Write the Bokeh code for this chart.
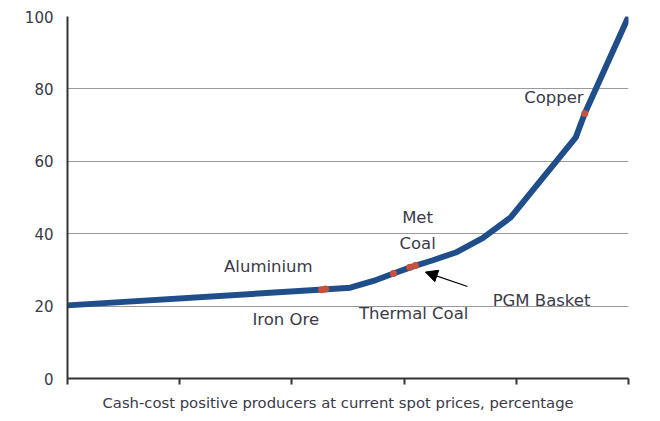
from bokeh.plotting import figure
from bokeh.models import ColumnDataSource, Arrow, NormalHead, FixedTicker, Range1d, CustomJSTickFormatter, Title
from bokeh.core.properties import value
from bokeh.embed import file_html
from bokeh.resources import INLINE

# Cost curve (x: cash-cost positive producers %, y: percentile)
curve_x = [0, 45.6, 50.4, 55.0, 58.1, 61.5, 65.0, 69.2, 74.0, 79.0, 90.6, 92.2, 100]
curve_y = [20.2, 24.6, 25.1, 27.2, 29.0, 30.9, 32.6, 34.8, 38.8, 44.5, 66.6, 73.2, 100]

# Commodity markers on the curve
marker_names = ["Aluminium", "Iron Ore", "Thermal Coal", "Met Coal", "PGM Basket", "Copper"]
marker_x = [45.3, 46.0, 58.1, 61.0, 62.0, 92.2]
marker_y = [24.5, 24.7, 29.0, 30.7, 31.2, 73.2]

# Annotation labels
label_text = ["Aluminium", "Iron Ore", "Met", "Coal", "Thermal Coal", "PGM Basket", "Copper"]
label_x = [35.8, 38.9, 62.4, 62.4, 61.7, 84.5, 86.7]
label_y = [30.9, 16.3, 44.5, 37.3, 18.0, 21.5, 77.6]

y_ticks = [0, 20, 40, 60, 80, 100]
x_ticks = [0, 20, 40, 60, 80, 100]

x_title = "Cash-cost positive producers at current spot prices, percentage"

FONT = "DejaVu Sans"

p = figure(width=652, height=419, output_backend="svg", toolbar_location=None,
           x_range=Range1d(0, 100), y_range=Range1d(0, 100),
           min_border_left=67, min_border_right=24, min_border_top=16, min_border_bottom=41)
p.outline_line_color = None
p.background_fill_color = "white"

p.xgrid.grid_line_color = None
p.ygrid.grid_line_color = "#9a9a9a"
p.ygrid.grid_line_width = 1
p.ygrid.ticker = FixedTicker(ticks=y_ticks)

p.yaxis.ticker = FixedTicker(ticks=y_ticks)
p.yaxis.major_tick_out = 0
p.yaxis.major_tick_in = 0
p.yaxis.minor_tick_out = 0
p.yaxis.minor_tick_in = 0
p.yaxis.axis_line_color = "#333333"
p.yaxis.axis_line_width = 2
p.yaxis.major_label_text_font = FONT
p.yaxis.major_label_text_font_size = "15px"
p.yaxis.major_label_text_color = "#3a3a48"
p.yaxis.major_label_standoff = 14

p.xaxis.ticker = FixedTicker(ticks=x_ticks)
p.xaxis.formatter = CustomJSTickFormatter(code="return ''")
p.xaxis.major_tick_out = 6
p.xaxis.major_tick_in = 0
p.xaxis.minor_tick_out = 0
p.xaxis.minor_tick_in = 0
p.xaxis.major_tick_line_color = "#333333"
p.xaxis.major_tick_line_width = 2
p.xaxis.axis_line_color = "#333333"
p.xaxis.axis_line_width = 2
p.xaxis.major_label_standoff = 0

src = ColumnDataSource(dict(x=curve_x, y=curve_y))
p.line("x", "y", source=src, line_color="#1f4e8a", line_width=6, line_join="round")

msrc = ColumnDataSource(dict(x=marker_x, y=marker_y, name=marker_names))
p.scatter("x", "y", source=msrc, marker="circle", size=7, fill_color="#c8503c",
          line_color=None)

lsrc = ColumnDataSource(dict(x=label_x, y=label_y, t=label_text))
p.text("x", "y", text="t", source=lsrc, text_align="center", text_baseline="middle",
       text_font=value(FONT), text_font_size="16.5px", text_color="#3a3a48")

p.add_layout(Arrow(end=NormalHead(size=12, fill_color="black", line_color="black"),
                   x_start=71.3, y_start=25.4, x_end=63.8, y_end=29.4,
                   line_color="black", line_width=1.2))

p.add_layout(Title(text=x_title, align="left", offset=35, standoff=14,
                   text_font=FONT, text_font_size="14.8px", text_font_style="normal",
                   text_color="#3a3a48"), "below")

open("out.html", "w").write(file_html(p, INLINE))
